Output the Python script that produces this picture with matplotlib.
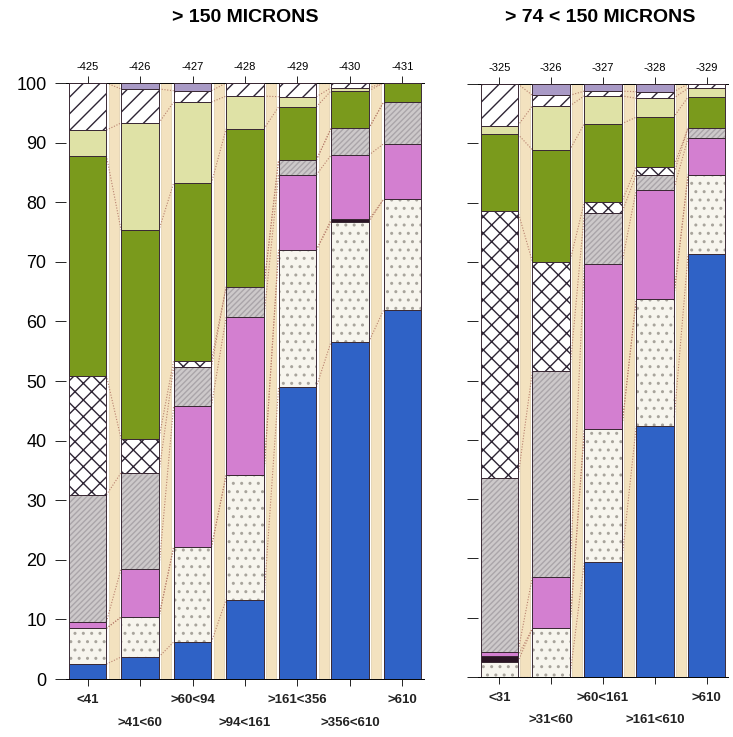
import numpy as np
import matplotlib
matplotlib.use("Agg")
import matplotlib.pyplot as plt

plt.rcParams['font.family'] = ['Liberation Sans', 'DejaVu Sans']
plt.rcParams['hatch.linewidth'] = 1.0

# size fractions, bottom layer first
layers = ["blue", "dots", "dark", "magenta", "grey", "cross", "green", "pale", "hatch", "lilac"]

codes_a = ["-425", "-426", "-427", "-428", "-429", "-430", "-431"]
sizes_a = ["<41", ">41<60", ">60<94", ">94<161", ">161<356", ">356<610", ">610"]
blue_a = [2.5, 3.7, 6.2, 13.3, 49.0, 56.6, 61.9]
dots_a = [6.0, 6.7, 15.9, 20.9, 23.0, 20.1, 18.6]
dark_a = [0, 0, 0, 0, 0, 0.4, 0]
magenta_a = [1.1, 8.1, 23.7, 26.5, 12.6, 10.8, 9.3]
grey_a = [21.3, 16.1, 6.5, 5.1, 2.5, 4.5, 7.0]
cross_a = [20.0, 5.7, 1.1, 0, 0, 0, 0]
green_a = [36.9, 35.0, 29.8, 26.5, 8.9, 6.3, 3.2]
pale_a = [4.3, 18.0, 13.6, 5.5, 1.7, 0.5, 0]
hatch_a = [7.9, 5.7, 1.9, 2.2, 2.3, 0.8, 0]
lilac_a = [0, 1.0, 1.3, 0, 0, 0, 0]

codes_b = ["-325", "-326", "-327", "-328", "-329"]
sizes_b = ["<31", ">31<60", ">60<161", ">161<610", ">610"]
blue_b = [0, 0, 19.4, 42.3, 71.3]
dots_b = [2.6, 8.2, 22.4, 21.4, 13.4]
dark_b = [1.0, 0, 0, 0, 0]
magenta_b = [0.6, 8.7, 27.8, 18.4, 6.2]
grey_b = [29.4, 34.7, 8.6, 2.6, 1.7]
cross_b = [44.9, 18.4, 1.9, 1.3, 0]
green_b = [13.0, 18.9, 13.2, 8.4, 5.2]
pale_b = [1.5, 7.4, 4.7, 3.2, 1.5]
hatch_b = [7.0, 1.8, 0.8, 1.1, 0.7]
lilac_b = [0, 1.9, 1.2, 1.3, 0]

# face colour, hatch colour, hatch pattern
style = {
    "blue": ("#2f62c6", "#2f62c6", None),
    "dots": ("#f7f5ee", "#a8a49c", ".."),
    "dark": ("#2a1424", "#2a1424", None),
    "magenta": ("#d37fd0", "#d37fd0", None),
    "grey": ("#cdc9ca", "#aaa5a9", "//////"),
    "cross": ("#ffffff", "#2e2535", "xx"),
    "green": ("#7a9a1c", "#7a9a1c", None),
    "pale": ("#dfe2a6", "#dfe2a6", None),
    "hatch": ("#ffffff", "#2e2535", "//"),
    "lilac": ("#a99ac6", "#a99ac6", None),
}

BEIGE = "#f3e2bf"
W = 0.72


def panel(ax, codes, sizes, data):
    n = len(codes)
    x = np.arange(n)
    # beige strips between the columns
    for i in range(n - 1):
        ax.bar(i + 0.5, 100, width=0.19, color=BEIGE, edgecolor="#d8c49c",
               linewidth=0.4, zorder=1)
    bottom = np.zeros(n)
    tops = []
    for name in layers:
        h = np.array(data[name], dtype=float)
        fc, hc, pat = style[name]
        ax.bar(x, h, W, bottom=bottom, color=fc, edgecolor=hc, hatch=pat,
               linewidth=0, zorder=2)
        bottom = bottom + h
        tops.append(bottom.copy())
    # outline of each segment
    b = np.zeros(n)
    for name in layers:
        h = np.array(data[name], dtype=float)
        for i in range(n):
            if h[i] > 0:
                ax.add_patch(plt.Rectangle((x[i] - W / 2, b[i]), W, h[i], fill=False,
                                           edgecolor="#3b2a35", linewidth=0.7, zorder=3))
        b = b + h
    # dotted connectors across the gaps
    for t in tops[:-1]:
        for i in range(n - 1):
            ax.plot([i + W / 2, i + 1 - W / 2], [t[i], t[i + 1]], ls=(0, (1, 1.5)),
                    color="#b8806e", lw=0.8, zorder=1.5)

    ax.set_xlim(-0.41, n - 1 + 0.41)
    ax.set_ylim(0, 100)
    ax.set_xticks(x)
    ax.set_xticklabels(codes, fontsize=8)
    ax.tick_params(axis="x", top=True, labeltop=True, bottom=True, labelbottom=False,
                   length=5, width=0.6, pad=3)
    for s in ["left", "right"]:
        ax.spines[s].set_visible(False)
    ax.spines["top"].set_linewidth(0.7)
    ax.spines["bottom"].set_linewidth(0.7)
    ax.set_yticks(range(0, 101, 10))
    ax.tick_params(axis="y", length=8, width=0.6)
    for i, lab in enumerate(sizes):
        ax.text(i, -3.6 if i % 2 == 0 else -7.3, lab, ha="center", va="center",
                fontsize=9.5, fontweight="bold", color="#222222",
                transform=ax.transData, clip_on=False)


fig = plt.figure(figsize=(7.33, 7.37), dpi=100)
W_PX, H_PX = 733, 737
ax1 = fig.add_axes([66 / W_PX, 1 - 679 / H_PX, 358 / W_PX, 596 / H_PX])
ax2 = fig.add_axes([478 / W_PX, 1 - 677 / H_PX, 250 / W_PX, 593 / H_PX])

panel(ax1, codes_a, sizes_a, dict(blue=blue_a, dots=dots_a, dark=dark_a, magenta=magenta_a,
                                  grey=grey_a, cross=cross_a, green=green_a, pale=pale_a,
                                  hatch=hatch_a, lilac=lilac_a))
panel(ax2, codes_b, sizes_b, dict(blue=blue_b, dots=dots_b, dark=dark_b, magenta=magenta_b,
                                  grey=grey_b, cross=cross_b, green=green_b, pale=pale_b,
                                  hatch=hatch_b, lilac=lilac_b))
ax1.tick_params(axis="y", labelsize=13, pad=6)
ax2.tick_params(axis="y", labelleft=False)

fig.text(245 / W_PX, 1 - 18 / H_PX, "> 150 MICRONS", ha="center", va="center",
         fontsize=14, fontweight="bold")
fig.text(600 / W_PX, 1 - 18 / H_PX, "> 74 < 150 MICRONS", ha="center", va="center",
         fontsize=14, fontweight="bold")

fig.savefig("out.png", dpi=100, facecolor="white")
